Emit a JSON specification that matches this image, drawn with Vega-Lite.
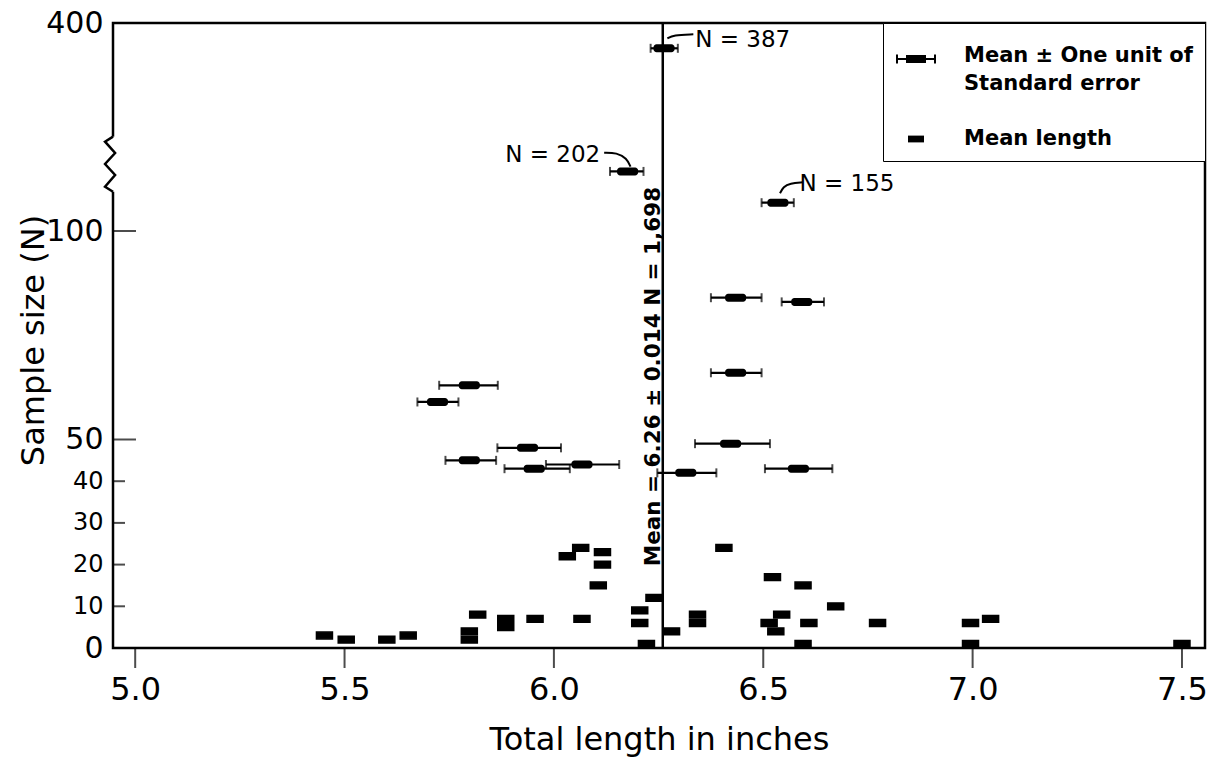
{
  "$schema": "https://vega.github.io/schema/vega-lite/v6.json",
  "width": 1092,
  "height": 625,
  "autosize": "none",
  "padding": {"left": 113, "top": 23, "right": 23, "bottom": 112},
  "background": "white",
  "config": {
    "font": "DejaVu Sans",
    "view": {"stroke": "black", "strokeWidth": 2.5},
    "style": {"guide-label": {"lineHeight": 28}},
    "axis": {"domain": false, "grid": false, "ticks": false, "tickSize": 0, "labelColor": "black", "titleColor": "black", "labelFont": "DejaVu Sans", "titleFont": "DejaVu Sans"}
  },
  "datasets": {
    "pts": [
      {"length": 5.722, "n": 59, "lo": 5.674, "hi": 5.772, "kind": "se"},
      {"length": 5.798, "n": 63, "lo": 5.726, "hi": 5.866, "kind": "se"},
      {"length": 5.798, "n": 45, "lo": 5.741, "hi": 5.862, "kind": "se"},
      {"length": 5.937, "n": 48, "lo": 5.865, "hi": 6.017, "kind": "se"},
      {"length": 5.953, "n": 43, "lo": 5.882, "hi": 6.038, "kind": "se"},
      {"length": 6.067, "n": 44, "lo": 5.981, "hi": 6.156, "kind": "se"},
      {"length": 6.176, "n": 202, "lo": 6.134, "hi": 6.214, "kind": "se"},
      {"length": 6.263, "n": 387, "lo": 6.231, "hi": 6.296, "kind": "se"},
      {"length": 6.315, "n": 42, "lo": 6.247, "hi": 6.388, "kind": "se"},
      {"length": 6.422, "n": 49, "lo": 6.337, "hi": 6.516, "kind": "se"},
      {"length": 6.434, "n": 66, "lo": 6.375, "hi": 6.496, "kind": "se"},
      {"length": 6.434, "n": 84, "lo": 6.375, "hi": 6.496, "kind": "se"},
      {"length": 6.535, "n": 155, "lo": 6.496, "hi": 6.573, "kind": "se"},
      {"length": 6.584, "n": 43, "lo": 6.504, "hi": 6.665, "kind": "se"},
      {"length": 6.592, "n": 83, "lo": 6.544, "hi": 6.645, "kind": "se"},
      {"length": 5.452, "n": 3, "kind": "mean"},
      {"length": 5.504, "n": 2, "kind": "mean"},
      {"length": 5.601, "n": 2, "kind": "mean"},
      {"length": 5.652, "n": 3, "kind": "mean"},
      {"length": 5.798, "n": 4, "kind": "mean"},
      {"length": 5.798, "n": 2, "kind": "mean"},
      {"length": 5.818, "n": 8, "kind": "mean"},
      {"length": 5.885, "n": 7, "kind": "mean"},
      {"length": 5.885, "n": 5, "kind": "mean"},
      {"length": 5.955, "n": 7, "kind": "mean"},
      {"length": 6.032, "n": 22, "kind": "mean"},
      {"length": 6.064, "n": 24, "kind": "mean"},
      {"length": 6.116, "n": 23, "kind": "mean"},
      {"length": 6.116, "n": 20, "kind": "mean"},
      {"length": 6.106, "n": 15, "kind": "mean"},
      {"length": 6.067, "n": 7, "kind": "mean"},
      {"length": 6.205, "n": 9, "kind": "mean"},
      {"length": 6.205, "n": 6, "kind": "mean"},
      {"length": 6.221, "n": 1, "kind": "mean"},
      {"length": 6.239, "n": 12, "kind": "mean"},
      {"length": 6.281, "n": 4, "kind": "mean"},
      {"length": 6.343, "n": 8, "kind": "mean"},
      {"length": 6.343, "n": 6, "kind": "mean"},
      {"length": 6.406, "n": 24, "kind": "mean"},
      {"length": 6.522, "n": 17, "kind": "mean"},
      {"length": 6.595, "n": 15, "kind": "mean"},
      {"length": 6.673, "n": 10, "kind": "mean"},
      {"length": 6.544, "n": 8, "kind": "mean"},
      {"length": 6.514, "n": 6, "kind": "mean"},
      {"length": 6.530, "n": 4, "kind": "mean"},
      {"length": 6.609, "n": 6, "kind": "mean"},
      {"length": 6.595, "n": 1, "kind": "mean"},
      {"length": 6.773, "n": 6, "kind": "mean"},
      {"length": 6.995, "n": 6, "kind": "mean"},
      {"length": 7.043, "n": 7, "kind": "mean"},
      {"length": 6.995, "n": 1, "kind": "mean"},
      {"length": 7.500, "n": 1, "kind": "mean"}
    ],
    "xticks": [{"v": 5.0}, {"v": 5.5}, {"v": 6.0}, {"v": 6.5}, {"v": 7.0}, {"v": 7.5}],
    "yticks_short": [{"v": 10}, {"v": 20}, {"v": 30}, {"v": 40}],
    "yticks_long": [{"v": 50}, {"v": 100}],
    "brk": [
      {"i": 0, "x": 4.947, "y": 254.2},
      {"i": 1, "x": 4.928, "y": 246.7},
      {"i": 2, "x": 4.952, "y": 229.7},
      {"i": 3, "x": 4.928, "y": 213.2},
      {"i": 4, "x": 4.952, "y": 196.6},
      {"i": 5, "x": 4.928, "y": 179.0},
      {"i": 6, "x": 4.947, "y": 171.5}
    ],
    "notes": [
      {"label": "N = 387", "x": 6.451, "y": 391.3},
      {"label": "N = 202", "x": 5.997, "y": 226.7},
      {"label": "N = 155", "x": 6.700, "y": 183.1}
    ],
    "arrows": [
      {"a": "387", "i": 0, "x": 6.333, "y": 394.2},
      {"a": "387", "i": 1, "x": 6.285, "y": 393.8},
      {"a": "387", "i": 2, "x": 6.271, "y": 392.1},
      {"a": "202", "i": 0, "x": 6.120, "y": 230.1},
      {"a": "202", "i": 1, "x": 6.150, "y": 230.1},
      {"a": "202", "i": 2, "x": 6.174, "y": 221.7},
      {"a": "202", "i": 3, "x": 6.183, "y": 209.1},
      {"a": "155", "i": 0, "x": 6.594, "y": 185.7},
      {"a": "155", "i": 1, "x": 6.564, "y": 184.2},
      {"a": "155", "i": 2, "x": 6.548, "y": 179.0},
      {"a": "155", "i": 3, "x": 6.540, "y": 169.1}
    ]
  },
  "layer": [
    {
      "data": {"name": "pts"},
      "transform": [{"filter": "datum.kind == 'se'"}],
      "mark": {"type": "rule", "color": "black", "strokeWidth": 2.2},
      "encoding": {
        "x": {"field": "lo", "type": "quantitative", "scale": {"domain": [4.947, 7.555], "nice": false, "zero": false},
          "axis": {"title": "Total length in inches", "values": [5, 5.5, 6, 6.5, 7, 7.5], "format": ".1f", "ticks": false, "tickSize": 0, "labelFontSize": 32, "labelPadding": 26, "labelFlush": false, "labelOverlap": false, "titleFontSize": 32, "titleFontWeight": "normal", "titleBaseline": "alphabetic", "titleY": 101}},
        "x2": {"field": "hi"},
        "y": {"field": "n", "type": "quantitative", "scale": {"domain": [0, 100, 155, 387, 400], "range": [625, 208, 179.7, 25.3, 0], "nice": false, "zero": false},
          "axis": {"title": "Sample size (N)", "values": [0, 10, 20, 30, 40, 50, 100, 400], "ticks": false, "tickSize": 0, "labelFontSize": {"condition": {"test": "datum.value == 0 || datum.value >= 50", "value": 30}, "value": 24}, "labelPadding": 10, "labelOverlap": false, "labelFlush": false, "titleFontSize": 32, "titleFontWeight": "normal", "titleX": -80, "titleY": 317, "titleAngle": 270, "titleAlign": "center", "titleBaseline": "middle"}}
      }
    },
    {
      "data": {"name": "xticks"},
      "mark": {"type": "tick", "orient": "vertical", "size": 20, "thickness": 2, "color": "black", "yOffset": 10},
      "encoding": {
        "x": {"field": "v", "type": "quantitative"},
        "y": {"datum": 0, "type": "quantitative"}
      }
    },
    {
      "data": {"name": "yticks_short"},
      "mark": {"type": "tick", "orient": "horizontal", "size": 12, "thickness": 2, "color": "black", "xOffset": 6},
      "encoding": {
        "x": {"datum": 4.947, "type": "quantitative"},
        "y": {"field": "v", "type": "quantitative"}
      }
    },
    {
      "data": {"name": "yticks_long"},
      "mark": {"type": "tick", "orient": "horizontal", "size": 23, "thickness": 2, "color": "black", "xOffset": 11.5},
      "encoding": {
        "x": {"datum": 4.947, "type": "quantitative"},
        "y": {"field": "v", "type": "quantitative"}
      }
    },
    {
      "data": {"name": "pts"},
      "transform": [{"filter": "datum.kind == 'se'"}],
      "mark": {"type": "tick", "orient": "vertical", "size": 9, "thickness": 2, "color": "black"},
      "encoding": {
        "x": {"field": "lo", "type": "quantitative"},
        "y": {"field": "n", "type": "quantitative"}
      }
    },
    {
      "data": {"name": "pts"},
      "transform": [{"filter": "datum.kind == 'se'"}],
      "mark": {"type": "tick", "orient": "vertical", "size": 9, "thickness": 2, "color": "black"},
      "encoding": {
        "x": {"field": "hi", "type": "quantitative"},
        "y": {"field": "n", "type": "quantitative"}
      }
    },
    {
      "data": {"name": "pts"},
      "transform": [{"filter": "datum.kind == 'se'"}],
      "mark": {"type": "tick", "orient": "horizontal", "size": 21, "thickness": 8, "cornerRadius": 3, "color": "black", "opacity": 1},
      "encoding": {
        "x": {"field": "length", "type": "quantitative"},
        "y": {"field": "n", "type": "quantitative"}
      }
    },
    {
      "data": {"name": "pts"},
      "transform": [{"filter": "datum.kind == 'mean'"}],
      "mark": {"type": "point", "filled": true, "color": "black", "fill": "black", "stroke": "black", "strokeWidth": 1.5, "opacity": 1, "size": 1600},
      "encoding": {
        "x": {"field": "length", "type": "quantitative"},
        "y": {"field": "n", "type": "quantitative"},
        "shape": {"field": "kind", "type": "nominal",
          "scale": {"domain": ["se", "mean"], "range": ["M-1,0.1H1V0.2H-1Z M-1,-0.07H-0.9V0.37H-1Z M0.9,-0.07H1V0.37H0.9Z M-0.5,-0.05H0.5V0.35H-0.5Z", "M-0.4,-0.17H0.4V0.17H-0.4Z"]},
          "legend": {"orient": "top-right", "offset": 0, "title": null,
            "labelExpr": "datum.value == 'se' ? ['Mean ± One unit of', 'Standard error'] : 'Mean length'",
            "labelFont": "DejaVu Sans", "labelFontSize": 21, "labelFontWeight": "bold", "labelColor": "black",
            "labelLimit": 0, "labelOffset": 27, "labelBaseline": "middle", "rowPadding": 24, "padding": 12,
            "symbolSize": 1600, "strokeColor": "black", "fillColor": "white",
            "symbolFillColor": "black", "symbolStrokeColor": "black", "symbolStrokeWidth": 1.5, "symbolOpacity": 1}}
      }
    },
    {
      "data": {"values": [{"mean": 6.26}]},
      "mark": {"type": "rule", "color": "black", "strokeWidth": 2.5},
      "encoding": {"x": {"field": "mean", "type": "quantitative"}}
    },
    {
      "data": {"values": [{"label": "Mean = 6.26 ± 0.014 N = 1,698", "x": 6.26, "y": 65.1}]},
      "mark": {"type": "text", "angle": 270, "align": "center", "baseline": "alphabetic", "dy": -3, "font": "DejaVu Sans", "fontSize": 21.5, "fontWeight": "bold", "color": "black"},
      "encoding": {
        "x": {"field": "x", "type": "quantitative"},
        "y": {"field": "y", "type": "quantitative"},
        "text": {"field": "label"}
      }
    },
    {
      "data": {"name": "notes"},
      "mark": {"type": "text", "align": "center", "baseline": "middle", "font": "DejaVu Sans", "fontSize": 23, "color": "black"},
      "encoding": {
        "x": {"field": "x", "type": "quantitative"},
        "y": {"field": "y", "type": "quantitative"},
        "text": {"field": "label"}
      }
    },
    {
      "data": {"name": "arrows"},
      "mark": {"type": "line", "color": "black", "strokeWidth": 2, "interpolate": "basis"},
      "encoding": {
        "x": {"field": "x", "type": "quantitative"},
        "y": {"field": "y", "type": "quantitative"},
        "detail": {"field": "a"},
        "order": {"field": "i"}
      }
    },
    {
      "data": {"values": [{"x": 4.947, "y": 171.5, "y2": 254.2}]},
      "mark": {"type": "rule", "color": "white", "strokeWidth": 7},
      "encoding": {
        "x": {"field": "x", "type": "quantitative"},
        "y": {"field": "y", "type": "quantitative"},
        "y2": {"field": "y2"}
      }
    },
    {
      "data": {"name": "brk"},
      "mark": {"type": "line", "color": "black", "strokeWidth": 2.5},
      "encoding": {
        "x": {"field": "x", "type": "quantitative"},
        "y": {"field": "y", "type": "quantitative"},
        "order": {"field": "i"}
      }
    }
  ]
}
